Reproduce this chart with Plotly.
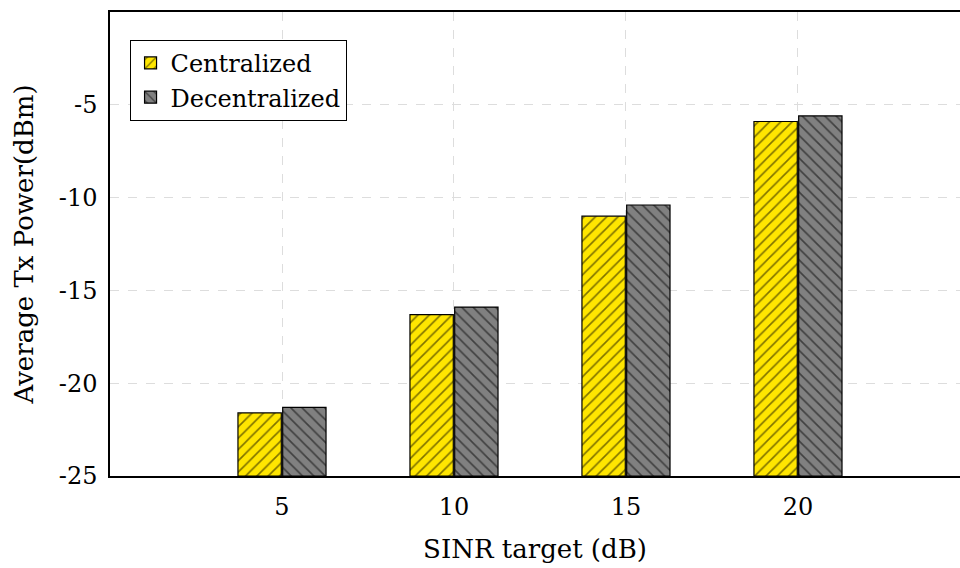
import plotly.graph_objects as go

sinr = [5, 10, 15, 20]
centralized = [-21.6, -16.3, -11.0, -5.9]
decentralized = [-21.3, -15.9, -10.4, -5.6]
x_ticks = [5, 10, 15, 20]
y_ticks = [-25, -20, -15, -10, -5]

FONT = "DejaVu Serif"
W = 1.26

fig = go.Figure()
fig.add_trace(go.Bar(
    x=sinr, y=[v + 25 for v in centralized], base=-25, name="Centralized",
    width=W, offset=-W - 0.02,
    marker=dict(color="#FFE600", line=dict(color="black", width=1.2),
                pattern=dict(shape="/", fgcolor="black", size=8, solidity=0.2)),
))
fig.add_trace(go.Bar(
    x=sinr, y=[v + 25 for v in decentralized], base=-25, name="Decentralized",
    width=W, offset=0.02,
    marker=dict(color="#808080", line=dict(color="black", width=1.2),
                pattern=dict(shape="\\", fgcolor="black", size=8, solidity=0.2)),
))

fig.update_layout(
    width=960, height=568,
    margin=dict(l=110, r=0, t=12, b=92),
    paper_bgcolor="white", plot_bgcolor="white",
    font=dict(family=FONT, size=24, color="black"),
    barmode="overlay",
    showlegend=True,
    legend=dict(x=0.023, y=0.94, xanchor="left", yanchor="top",
                bgcolor="white", bordercolor="black", borderwidth=1,
                font=dict(family=FONT, size=24), tracegroupgap=0,
                itemwidth=30),
    xaxis=dict(range=[0, 24.71], tickvals=x_ticks, ticktext=[str(t) for t in x_ticks],
               showline=True, linecolor="black", linewidth=1.5, mirror=True,
               showgrid=True, gridcolor="#dddddd", griddash="dash", gridwidth=1,
               ticks="", ticklabelstandoff=8,
               title=dict(text="SINR target (dB)", font=dict(size=26), standoff=20),
               zeroline=False, tickfont=dict(size=24)),
    yaxis=dict(range=[-25, 0], tickvals=y_ticks, ticktext=[str(t) for t in y_ticks],
               showline=True, linecolor="black", linewidth=1.5, mirror=False,
               showgrid=True, gridcolor="#dddddd", griddash="dash", gridwidth=1,
               ticks="", ticklabelstandoff=6,
               title=dict(text="Average Tx Power(dBm)", font=dict(size=26), standoff=18),
               zeroline=False, tickfont=dict(size=24)),
)

fig.write_html("out.html")
